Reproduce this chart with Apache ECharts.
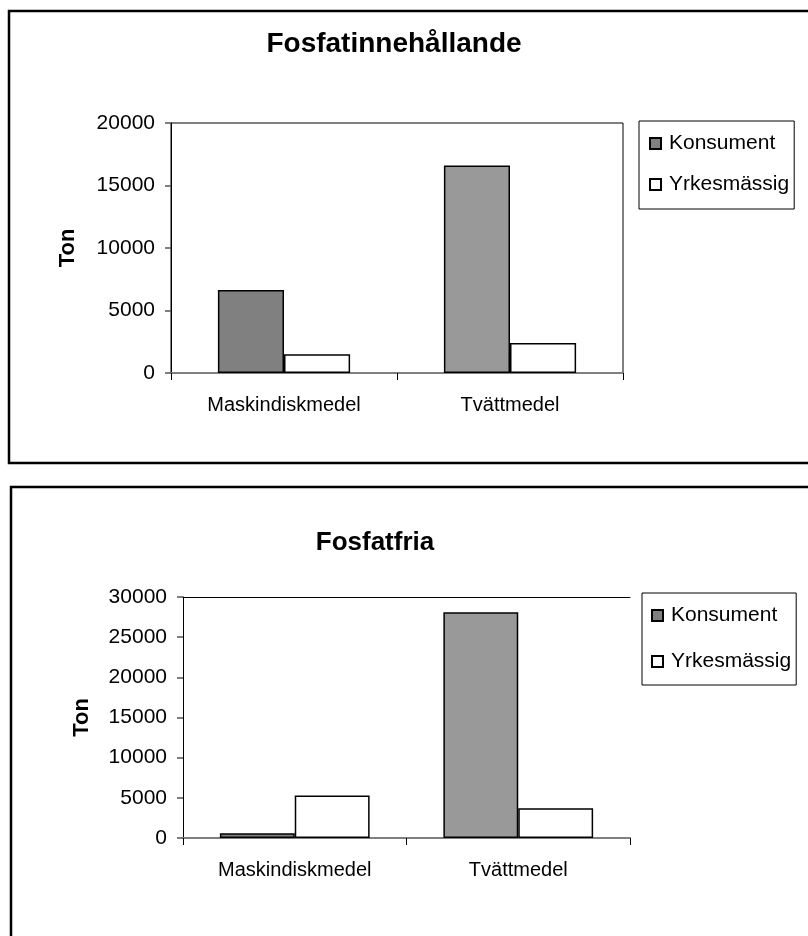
<!DOCTYPE html>
<html>
<head>
<meta charset="utf-8">
<script src="https://cdn.jsdelivr.net/npm/echarts@6/dist/echarts.min.js"></script>
<style>
html,body{margin:0;padding:0;background:#fff;}
#chart{width:808px;height:936px;}
</style>
</head>
<body>
<div id="chart"></div>
<script>
// ---- data ----
const categories = ['Maskindiskmedel', 'Tvättmedel'];
const seriesNames = ['Konsument', 'Yrkesmässig'];
const titles = ['Fosfatinnehållande', 'Fosfatfria'];
const yAxisName = 'Ton';
// Chart 1: Fosfatinnehållande
const fosfatKonsument = [6650, 16600];
const fosfatYrkes = [1500, 2400];
// Chart 2: Fosfatfria
const friaKonsument = [600, 28100];
const friaYrkes = [5300, 3700];
// axis ranges
const yMax1 = 20000, yInterval1 = 5000;
const yMax2 = 30000, yInterval2 = 5000;

// ---- styles ----
const FONT = '"Liberation Sans", Arial, sans-serif';
const konsumentColors = ['#808080', '#999999'];

const chart = echarts.init(document.getElementById('chart'), null, {renderer: 'canvas'});

function konsData(vals) {
  return vals.map((v, i) => ({value: v, itemStyle: {color: konsumentColors[i]}}));
}

const barBorder = {borderColor: '#000', borderWidth: 1.5};

function yAxisCfg(gi, max, interval, nameGap) {
  return {
    type: 'value', gridIndex: gi, min: 0, max: max, interval: interval,
    name: yAxisName, nameLocation: 'middle', nameGap: nameGap, nameRotate: 90,
    nameTextStyle: {fontFamily: FONT, fontSize: 22, fontWeight: 'bold', color: '#000'},
    axisLine: {show: true, lineStyle: {color: '#000', width: 1}},
    axisTick: {show: true, length: 6, lineStyle: {color: '#555', width: 1.5}},
    axisLabel: {fontFamily: FONT, fontSize: 21, color: '#000', margin: 16, formatter: v => String(v)},
    splitLine: {show: false}
  };
}
function xAxisCfg(gi) {
  return {
    type: 'category', gridIndex: gi, data: categories, boundaryGap: true,
    axisLine: {show: true, lineStyle: {color: '#808080', width: 2}},
    axisTick: {show: true, length: 7, alignWithLabel: false, lineStyle: {color: '#000', width: 1}},
    axisLabel: {fontFamily: FONT, fontSize: 20, color: '#000', margin: 22},
    splitLine: {show: false}
  };
}
function legendCfg(left, top, gap, padding) {
  return {
    orient: 'vertical', left: left, top: top, itemGap: gap,
    padding: padding, itemWidth: 11, itemHeight: 11, icon: 'rect',
    borderColor: '#000', borderWidth: 1, backgroundColor: '#fff',
    data: seriesNames,
    textStyle: {fontFamily: FONT, fontSize: 21, color: '#000', lineHeight: 20, padding: [0, 0, 0, 3]}
  };
}

const option = {
  animation: false,
  backgroundColor: '#fff',
  graphic: [
    {type: 'rect', shape: {x: 9, y: 11, width: 900, height: 452}, style: {fill: 'none', stroke: '#000', lineWidth: 2.5}, z: -1},
    {type: 'rect', shape: {x: 11, y: 487, width: 900, height: 500}, style: {fill: 'none', stroke: '#000', lineWidth: 2.5}, z: -1}
  ],
  title: [
    {text: titles[0], left: 394, top: 30, textAlign: 'center', padding: 0,
     textStyle: {fontFamily: FONT, fontSize: 28, fontWeight: 'bold', color: '#000'}},
    {text: titles[1], left: 375, top: 530, textAlign: 'center', padding: 0,
     textStyle: {fontFamily: FONT, fontSize: 26, fontWeight: 'bold', color: '#000'}}
  ],
  legend: [
    legendCfg(639, 121, 20, [12, 5, 14, 10]),
    legendCfg(642, 593, 25, [12, 5, 13, 9])
  ],
  grid: [
    {left: 171, top: 123, width: 452, height: 250, show: true, borderColor: '#000', borderWidth: 1, backgroundColor: 'transparent'},
    {left: 183, top: 597, width: 447, height: 241}
  ],
  xAxis: [
    xAxisCfg(0),
    xAxisCfg(1),
    {type: 'category', gridIndex: 1, position: 'top', data: categories,
     axisLine: {show: true, lineStyle: {color: '#000', width: 1}},
     axisTick: {show: false}, axisLabel: {show: false}, splitLine: {show: false}}
  ],
  yAxis: [
    yAxisCfg(0, yMax1, yInterval1, 92),
    yAxisCfg(1, yMax2, yInterval2, 90)
  ],
  series: [
    {name: seriesNames[0], type: 'bar', xAxisIndex: 0, yAxisIndex: 0, data: konsData(fosfatKonsument),
     barGap: '0%', barCategoryGap: '41.5%', itemStyle: Object.assign({color: konsumentColors[0]}, barBorder)},
    {name: seriesNames[1], type: 'bar', xAxisIndex: 0, yAxisIndex: 0, data: fosfatYrkes,
     barGap: '0%', barCategoryGap: '41.5%', itemStyle: Object.assign({color: '#fff'}, barBorder)},
    {name: seriesNames[0], type: 'bar', xAxisIndex: 1, yAxisIndex: 1, data: konsData(friaKonsument),
     barGap: '0%', barCategoryGap: '33%', itemStyle: Object.assign({color: konsumentColors[0]}, barBorder)},
    {name: seriesNames[1], type: 'bar', xAxisIndex: 1, yAxisIndex: 1, data: friaYrkes,
     barGap: '0%', barCategoryGap: '33%', itemStyle: Object.assign({color: '#fff'}, barBorder)}
  ]
};
chart.setOption(option);
</script>
</body>
</html>
